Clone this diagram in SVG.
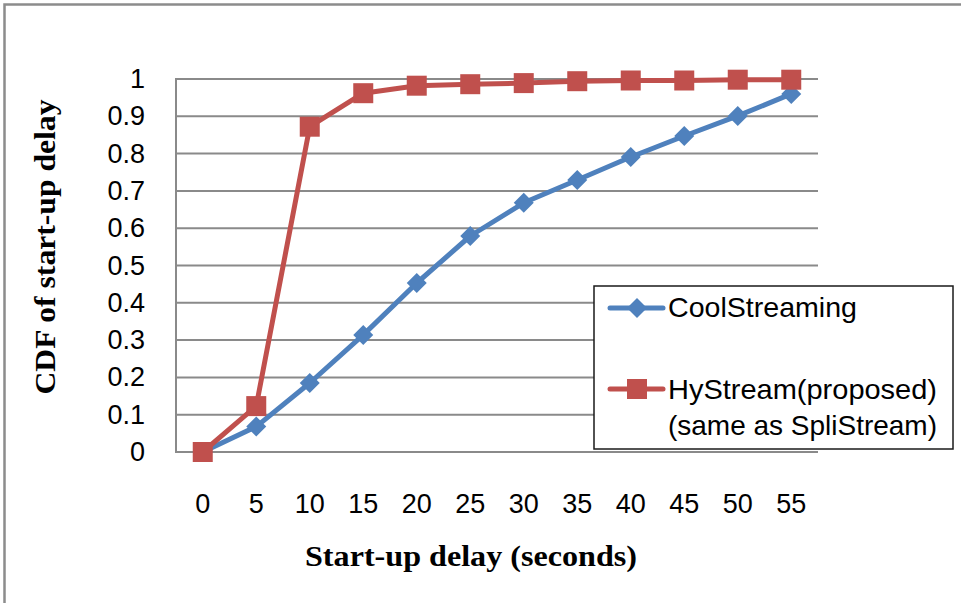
<svg xmlns="http://www.w3.org/2000/svg" width="961" height="603" viewBox="0 0 961 603">
  <style>
    .grid { stroke: #8a8a8a; stroke-width: 2; fill: none; }
    .tick { font-family: "Liberation Sans", Arial, sans-serif; font-size: 27px; fill: #000; }
    .title { font-family: "Liberation Serif", "Times New Roman", serif; font-size: 30px; font-weight: bold; fill: #000; }
    .legend { font-family: "Liberation Sans", Arial, sans-serif; font-size: 28px; fill: #000; }
    .blue { stroke: #4F81BD; stroke-width: 5; fill: none; stroke-linejoin: round; stroke-linecap: round; }
    .red { stroke: #C0504D; stroke-width: 5; fill: none; stroke-linejoin: round; stroke-linecap: round; }
  </style>
  <defs>
    <path id="diamond" d="M0,-10 L10,0 L0,10 L-10,0 Z" fill="#4F81BD"/>
    <rect id="square" x="-10" y="-10" width="20" height="20" fill="#C0504D"/>
  </defs>
  <rect width="961" height="603" fill="#ffffff"/>
  <!-- outer frame (top and left edges) -->
  <path d="M4.5,603 L4.5,4.5 L961,4.5" stroke="#8c8c8c" stroke-width="2.5" fill="none"/>

  <!-- gridlines and axes -->
  <g id="grid">
    <line class="grid" x1="176" y1="79" x2="818" y2="79"/>
    <line class="grid" x1="176" y1="116.3" x2="818" y2="116.3"/>
    <line class="grid" x1="176" y1="153.6" x2="818" y2="153.6"/>
    <line class="grid" x1="176" y1="190.9" x2="818" y2="190.9"/>
    <line class="grid" x1="176" y1="228.2" x2="818" y2="228.2"/>
    <line class="grid" x1="176" y1="265.5" x2="818" y2="265.5"/>
    <line class="grid" x1="176" y1="302.8" x2="818" y2="302.8"/>
    <line class="grid" x1="176" y1="340.1" x2="818" y2="340.1"/>
    <line class="grid" x1="176" y1="377.4" x2="818" y2="377.4"/>
    <line class="grid" x1="176" y1="414.7" x2="818" y2="414.7"/>
    <line class="grid" x1="176" y1="452" x2="818" y2="452"/>
    <line class="grid" x1="176" y1="78" x2="176" y2="453"/>
  </g>

  <!-- y tick labels -->
  <g id="y-ticks" class="tick" text-anchor="end">
    <text x="145" y="88">1</text>
    <text x="145" y="125.3">0.9</text>
    <text x="145" y="162.6">0.8</text>
    <text x="145" y="199.9">0.7</text>
    <text x="145" y="237.2">0.6</text>
    <text x="145" y="274.5">0.5</text>
    <text x="145" y="311.8">0.4</text>
    <text x="145" y="349.1">0.3</text>
    <text x="145" y="386.4">0.2</text>
    <text x="145" y="423.7">0.1</text>
    <text x="145" y="461">0</text>
  </g>

  <!-- x tick labels -->
  <g id="x-ticks" class="tick" text-anchor="middle">
    <text x="202.75" y="513">0</text>
    <text x="256.25" y="513">5</text>
    <text x="309.75" y="513">10</text>
    <text x="363.25" y="513">15</text>
    <text x="416.75" y="513">20</text>
    <text x="470.25" y="513">25</text>
    <text x="523.75" y="513">30</text>
    <text x="577.25" y="513">35</text>
    <text x="630.75" y="513">40</text>
    <text x="684.25" y="513">45</text>
    <text x="737.75" y="513">50</text>
    <text x="791.25" y="513">55</text>
  </g>

  <!-- axis titles -->
  <text id="x-title" class="title" x="471" y="566" text-anchor="middle" textLength="332" lengthAdjust="spacingAndGlyphs">Start-up delay (seconds)</text>
  <text id="y-title" class="title" transform="translate(55,247) rotate(-90)" x="0" y="0" text-anchor="middle" textLength="295" lengthAdjust="spacingAndGlyphs">CDF of start-up delay</text>

  <!-- data series -->
  <g id="series-coolstreaming">
    <polyline class="blue" points="202.75,452 256.25,426.6 309.75,383 363.25,334.9 416.75,283 470.25,236 523.75,202.8 577.25,180 630.75,157 684.25,136 737.75,115.9 791.25,93.9"/>
    <use href="#diamond" x="202.75" y="452"/>
    <use href="#diamond" x="256.25" y="426.6"/>
    <use href="#diamond" x="309.75" y="383"/>
    <use href="#diamond" x="363.25" y="334.9"/>
    <use href="#diamond" x="416.75" y="283"/>
    <use href="#diamond" x="470.25" y="236"/>
    <use href="#diamond" x="523.75" y="202.8"/>
    <use href="#diamond" x="577.25" y="180"/>
    <use href="#diamond" x="630.75" y="157"/>
    <use href="#diamond" x="684.25" y="136"/>
    <use href="#diamond" x="737.75" y="115.9"/>
    <use href="#diamond" x="791.25" y="93.9"/>
  </g>
  <g id="series-hystream">
    <polyline class="red" points="202.75,452 256.25,406.1 309.75,126.7 363.25,93.2 416.75,85.7 470.25,84.2 523.75,83.1 577.25,81.2 630.75,80.5 684.25,80.5 737.75,79.7 791.25,79.7"/>
    <use href="#square" x="202.75" y="452"/>
    <use href="#square" x="256.25" y="406.1"/>
    <use href="#square" x="309.75" y="126.7"/>
    <use href="#square" x="363.25" y="93.2"/>
    <use href="#square" x="416.75" y="85.7"/>
    <use href="#square" x="470.25" y="84.2"/>
    <use href="#square" x="523.75" y="83.1"/>
    <use href="#square" x="577.25" y="81.2"/>
    <use href="#square" x="630.75" y="80.5"/>
    <use href="#square" x="684.25" y="80.5"/>
    <use href="#square" x="737.75" y="79.7"/>
    <use href="#square" x="791.25" y="79.7"/>
  </g>

  <!-- legend -->
  <g id="legend">
    <rect x="594" y="286" width="359" height="163" fill="#ffffff" stroke="#1a1a1a" stroke-width="1.5"/>
    <line class="blue" x1="610" y1="308" x2="663" y2="308"/>
    <use href="#diamond" x="637" y="308"/>
    <text class="legend" x="668" y="317" textLength="189" lengthAdjust="spacingAndGlyphs">CoolStreaming</text>
    <line class="red" x1="610" y1="389" x2="663" y2="389"/>
    <use href="#square" x="637" y="389"/>
    <text class="legend" x="668" y="399" textLength="269" lengthAdjust="spacingAndGlyphs">HyStream(proposed)</text>
    <text class="legend" x="668" y="435" textLength="269" lengthAdjust="spacingAndGlyphs">(same as SpliStream)</text>
  </g>
</svg>
